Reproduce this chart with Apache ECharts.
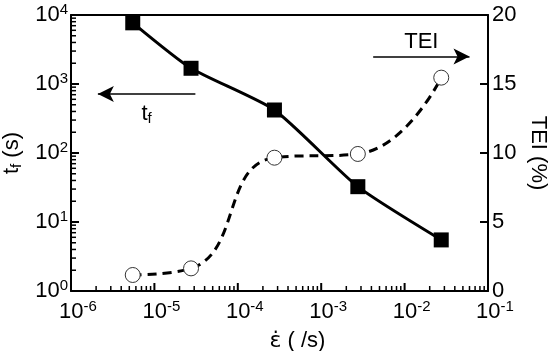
<!DOCTYPE html>
<html>
<head>
<meta charset="utf-8">
<script src="https://cdn.jsdelivr.net/npm/echarts@6/dist/echarts.min.js"></script>
<style>
  html, body { margin: 0; padding: 0; background: #fff; }
  #chart { width: 550px; height: 351px; }
</style>
</head>
<body>
<div id="chart"></div>
<script>
// 数据
const strainRate = [5.5e-6, 2.75e-5, 2.75e-4, 2.75e-3, 2.75e-2]
const tfValues = [7700, 1690, 420, 32.5, 5.5]
const teiValues = [1.16, 1.64, 9.66, 9.93, 15.46]
const teiTicks = [0, 5, 10, 15, 20]

// 刻度 (10^n 和 2..9 x 10^n)
function majorValues(lo, hi) {
  const out = []
  for (let e = lo; e <= hi; e++) out.push(Math.pow(10, e))
  return out
}
function minorValues(lo, hi) {
  const out = []
  for (let e = lo; e < hi; e++) {
    for (let k = 2; k <= 9; k++) out.push(k * Math.pow(10, e))
  }
  return out
}
const xMajor = majorValues(-6, -1)
const xMinor = minorValues(-6, -1)
const yMajor = majorValues(0, 4)
const yMinor = minorValues(0, 4)

const font = 'Liberation Sans, Arial, sans-serif'
const richPow = {
  b: { fontSize: 22, fontFamily: font, color: '#000' },
  s: { fontSize: 15, fontFamily: font, color: '#000', verticalAlign: 'bottom', padding: [0, 0, 11, 0] },
}
function powFmt(v) {
  return '{b|10}{s|' + Math.round(Math.log10(v)) + '}'
}
const frameLine = { show: true, lineStyle: { color: '#000', width: 2 } }

// 刻度线 (custom series), dir: 'up' | 'right' | 'left'
function tickSeries(list, yAxisIndex, dir) {
  return {
    type: 'custom',
    xAxisIndex: 0,
    yAxisIndex: yAxisIndex,
    silent: true,
    z: 1,
    data: list,
    renderItem: function (params, api) {
      const p = api.coord([api.value(0), api.value(1)])
      const len = api.value(2)
      let x2 = p[0]
      let y2 = p[1]
      if (dir === 'up') y2 -= len
      else if (dir === 'right') x2 += len
      else x2 -= len
      return {
        type: 'line',
        shape: { x1: p[0], y1: p[1], x2: x2, y2: y2 },
        style: { stroke: '#000', lineWidth: len > 6 ? 2 : 1.5 },
      }
    },
  }
}

const chart = echarts.init(document.getElementById('chart'))
const option = {
  animation: false,
  grid: {
    left: 71,
    right: 62,
    top: 15,
    bottom: 60,
    outerBoundsMode: 'none',
    containLabel: false,
  },
  xAxis: [
    {
      type: 'log',
      logBase: 10,
      min: 1e-6,
      max: 1e-1,
      position: 'bottom',
      name: '{e|ε̇}{n| ( /s)}',
      nameLocation: 'middle',
      nameGap: 39,
      nameTextStyle: {
        padding: [0, 0, 0, 36],
        rich: {
          e: { fontSize: 22, fontFamily: 'DejaVu Sans', color: '#000' },
          n: { fontSize: 22, fontFamily: font, color: '#000' },
        },
      },
      axisLine: frameLine,
      axisTick: { show: false },
      axisLabel: { show: true, margin: 8, padding: [0, 0, 0, 14], formatter: powFmt, rich: richPow },
      splitLine: { show: false },
    },
    {
      type: 'log',
      logBase: 10,
      min: 1e-6,
      max: 1e-1,
      position: 'top',
      axisLine: frameLine,
      axisTick: { show: false },
      axisLabel: { show: false },
      splitLine: { show: false },
    },
  ],
  yAxis: [
    {
      type: 'log',
      logBase: 10,
      min: 1,
      max: 1e4,
      position: 'left',
      name: '{t|t}{f|f}{t| (s)}',
      nameLocation: 'middle',
      nameGap: 43,
      nameTextStyle: {
        rich: {
          t: { fontSize: 22, fontFamily: font, color: '#000' },
          f: { fontSize: 15, fontFamily: font, color: '#000', verticalAlign: 'top', padding: [9, 0, 0, 0] },
        },
      },
      axisLine: frameLine,
      axisTick: { show: false },
      axisLabel: { show: true, margin: 3, formatter: powFmt, rich: richPow },
      splitLine: { show: false },
    },
    {
      type: 'value',
      min: 0,
      max: 20,
      interval: 5,
      position: 'right',
      name: 'TEI (%)',
      nameLocation: 'middle',
      nameGap: 35,
      nameRotate: -90,
      nameTextStyle: { fontSize: 22, fontFamily: font, color: '#000' },
      axisLine: frameLine,
      axisTick: { show: false },
      axisLabel: { show: true, margin: 4, fontSize: 22, fontFamily: font, color: '#000' },
      splitLine: { show: false },
    },
  ],
  series: [
    // 刻度
    tickSeries(xMajor.map(v => [v, 1, 8]).concat(xMinor.map(v => [v, 1, 5])), 0, 'up'),
    tickSeries(yMajor.map(v => [1e-6, v, 8]).concat(yMinor.map(v => [1e-6, v, 5])), 0, 'right'),
    tickSeries(teiTicks.slice(1, 4).map(v => [1e-1, v, 8]), 1, 'left'),
    {
      name: 'TEI',
      type: 'line',
      xAxisIndex: 0,
      yAxisIndex: 1,
      data: strainRate.map((x, i) => [x, teiValues[i]]),
      smooth: 0.5,
      symbol: 'circle',
      symbolSize: 15,
      lineStyle: { color: '#000', width: 3, type: [9, 6] },
      itemStyle: { color: '#fff', borderColor: '#333', borderWidth: 1 },
      z: 3,
      markLine: {
        silent: true,
        symbol: ['none', 'arrow'],
        symbolSize: [12, 16],
        lineStyle: { color: '#000', width: 1.5, type: 'solid' },
        label: { show: true, position: 'middle', formatter: 'TEI', fontSize: 22, fontFamily: font, color: '#000', distance: 3 },
        data: [[{ coord: [4.2e-3, 17.0] }, { coord: [0.06, 17.0] }]],
      },
    },
    {
      name: 'tf',
      type: 'line',
      xAxisIndex: 0,
      yAxisIndex: 0,
      data: strainRate.map((x, i) => [x, tfValues[i]]),
      smooth: 0.2,
      symbol: 'rect',
      symbolSize: 15,
      lineStyle: { color: '#000', width: 3 },
      itemStyle: { color: '#000' },
      z: 4,
      markLine: {
        silent: true,
        symbol: ['arrow', 'none'],
        symbolSize: [12, 16],
        lineStyle: { color: '#000', width: 1.5, type: 'solid' },
        label: {
          show: true,
          position: 'insideMiddleBottom',
          formatter: '{t|t}{f|f}',
          distance: 8,
          rich: {
            t: { fontSize: 22, fontFamily: font, color: '#000' },
            f: { fontSize: 15, fontFamily: font, color: '#000', verticalAlign: 'top', padding: [9, 0, 0, 0] },
          },
        },
        data: [[{ coord: [2.1e-6, 716] }, { coord: [3.1e-5, 716] }]],
      },
    },
  ],
}
chart.setOption(option)
</script>
</body>
</html>
